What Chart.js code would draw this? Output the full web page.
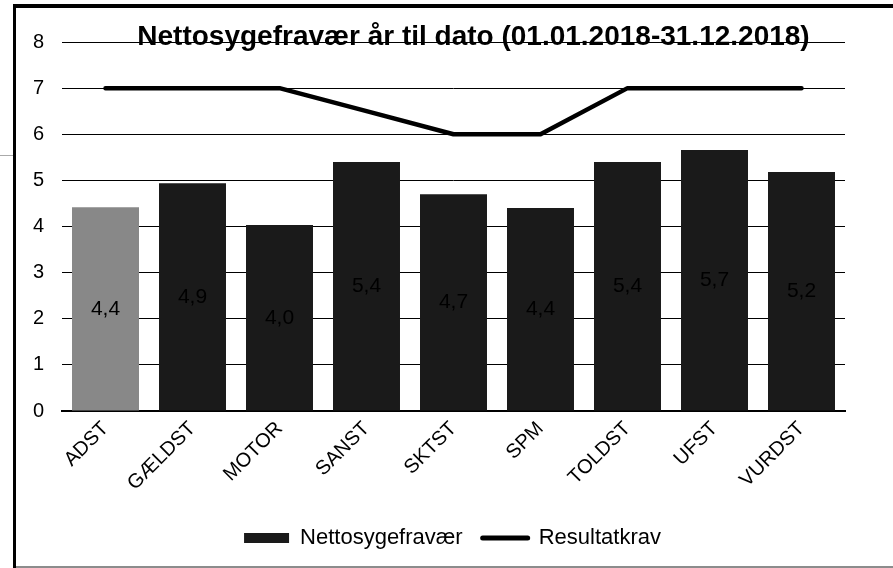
<!DOCTYPE html>
<html>
<head>
<meta charset="utf-8">
<script src="https://cdn.jsdelivr.net/npm/chart.js@4/dist/chart.umd.min.js"></script>
<style>
  html, body { margin: 0; padding: 0; background: #fff; }
  body { width: 893px; height: 568px; position: relative; overflow: hidden; font-family: "Liberation Sans", Arial, sans-serif; }
  #frameLeft { position: absolute; left: 13px; top: 4px; width: 3px; height: 564px; background: #000; }
  #frameTop { position: absolute; left: 13px; top: 4px; width: 880px; height: 4px; background: #000; }
  #frameBottom { position: absolute; left: 16px; top: 566px; width: 877px; height: 2px; background: #8c8c8c; }
  #stray { position: absolute; left: 0; top: 155px; width: 13px; height: 1px; background: #aaa; }
  #wrap { position: absolute; left: 16px; top: 9px; width: 877px; height: 557px; }
  #title { position: absolute; left: 35px; top: 20px; width: 877px; text-align: center; font: bold 28px "Liberation Sans", Arial, sans-serif; color: #000; pointer-events: none; white-space: nowrap; }
</style>
</head>
<body>
<div id="frameLeft"></div>
<div id="frameTop"></div>
<div id="frameBottom"></div>
<div id="stray"></div>
<div id="wrap"><canvas id="chart"></canvas></div>
<div id="title">Nettosygefravær år til dato (01.01.2018-31.12.2018)</div>
<script>
// Data
const categories = ['ADST', 'GÆLDST', 'MOTOR', 'SANST', 'SKTST', 'SPM', 'TOLDST', 'UFST', 'VURDST'];
const nettoValues = [4.42, 4.94, 4.03, 5.4, 4.7, 4.4, 5.4, 5.66, 5.18];
const kravValues = [7, 7, 7, 6.5, 6, 6, 7, 7, 7];
const yTicks = [0, 1, 2, 3, 4, 5, 6, 7, 8];

const barColors = categories.map((c, i) => i === 0 ? '#888888' : '#1a1a1a');
const FONT = '"Liberation Sans", Arial, sans-serif';

// draws the value in the middle of each bar (Danish decimal comma)
const barValueLabels = {
    id: 'barValueLabels',
    afterDatasetsDraw(chart) {
        const meta = chart.getDatasetMeta(0);
        const ctx = chart.ctx;
        ctx.save();
        ctx.font = '21px ' + FONT;
        ctx.fillStyle = '#000';
        ctx.textAlign = 'center';
        ctx.textBaseline = 'middle';
        meta.data.forEach((bar, i) => {
            const txt = nettoValues[i].toFixed(1).replace('.', ',');
            ctx.fillText(txt, bar.x, (bar.y + bar.base) / 2);
        });
        ctx.restore();
    }
};

// nudge the legend a bit right, like in the original
const legendShift = {
    id: 'legendShift',
    afterLayout(chart) {
        if (chart.legend) { chart.legend.left += 22; chart.legend.right += 22; }
    }
};

new Chart(document.getElementById('chart'), {
    data: {
        labels: categories,
        datasets: [
            {
                type: 'bar',
                label: 'Nettosygefravær',
                data: nettoValues,
                backgroundColor: barColors,
                categoryPercentage: 1,
                barPercentage: 0.77,
                order: 2
            },
            {
                type: 'line',
                label: 'Resultatkrav',
                data: kravValues,
                borderColor: '#000',
                borderWidth: 4.5,
                borderCapStyle: 'round',
                borderJoinStyle: 'round',
                pointRadius: 0,
                tension: 0,
                fill: false,
                order: 1
            }
        ]
    },
    options: {
        responsive: true,
        maintainAspectRatio: false,
        animation: false,
        layout: { padding: { top: 33, right: 48, left: 0, bottom: 7 } },
        scales: {
            x: {
                grid: { display: false, drawTicks: false },
                border: { display: true, color: '#000', width: 2 },
                ticks: {
                    color: '#000',
                    font: { family: FONT, size: 20 },
                    maxRotation: 45, minRotation: 45,
                    padding: 6
                },
                afterFit(scale) { scale.height = 96; }
            },
            y: {
                min: 0, max: 8,
                afterBuildTicks(scale) { scale.ticks = yTicks.map(v => ({ value: v })); },
                grid: { color: '#000', lineWidth: 1, drawTicks: false },
                border: { display: false },
                ticks: {
                    color: '#000',
                    font: { family: FONT, size: 20 },
                    padding: 18
                },
                afterFit(scale) { scale.width = 46; }
            }
        },
        plugins: {
            title: { display: false },
            tooltip: { enabled: false },
            legend: {
                position: 'bottom',
                labels: {
                    color: '#000',
                    font: { family: FONT, size: 22 },
                    usePointStyle: true,
                    pointStyleWidth: 45,
                    boxHeight: 10,
                    padding: 20,
                    sort: (a, b) => a.datasetIndex - b.datasetIndex,
                    generateLabels(chart) {
                        const items = Chart.defaults.plugins.legend.labels.generateLabels(chart);
                        items.forEach(item => {
                            if (item.datasetIndex === 0) {
                                item.pointStyle = 'rect';
                                item.fillStyle = '#1a1a1a';
                                item.strokeStyle = '#1a1a1a';
                                item.lineWidth = 0;
                            } else {
                                item.pointStyle = 'line';
                                item.strokeStyle = '#000';
                                item.lineWidth = 5;
                                item.lineCap = 'round';
                            }
                        });
                        return items;
                    }
                }
            }
        }
    },
    plugins: [barValueLabels, legendShift]
});
</script>
</body>
</html>
